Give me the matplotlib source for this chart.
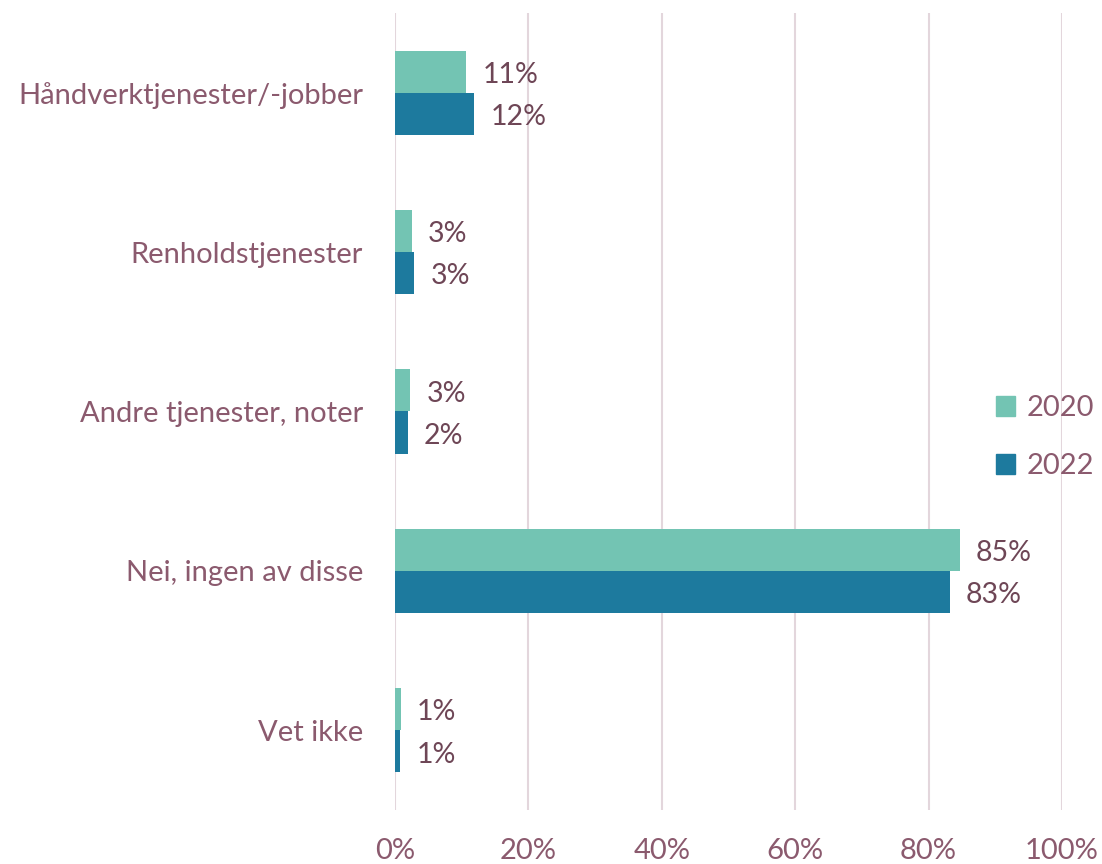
import matplotlib.pyplot as plt
import numpy as np
from matplotlib.patches import Patch

categories = ["Håndverktjenester/-jobber", "Renholdstjenester",
              "Andre tjenester, noter", "Nei, ingen av disse", "Vet ikke"]
values_2020 = [10.7, 2.5, 2.3, 84.7, 0.9]
values_2022 = [11.9, 2.9, 1.9, 83.2, 0.8]
labels_2020 = ["11%", "3%", "3%", "85%", "1%"]
labels_2022 = ["12%", "3%", "2%", "83%", "1%"]

plt.rcParams["font.family"] = ["Lato", "DejaVu Sans"]

C2020 = "#73c4b3"
C2022 = "#1d7a9e"
TICK = "#8b5a6e"
LABEL = "#6e4656"
GRID = "#e3d6dc"

fig = plt.figure(figsize=(11.02, 8.64), dpi=100)
ax = fig.add_axes([0.3584, 0.0625, 0.6053, 0.9225])

y = np.arange(len(categories))
h = 0.264
ax.barh(y - h / 2, values_2020, height=h, color=C2020, zorder=2)
ax.barh(y + h / 2, values_2022, height=h, color=C2022, zorder=2)

# value labels sit a touch below the bar centre, as in the original
for i in range(len(categories)):
    ax.text(values_2020[i] + 2.4, y[i] - h / 2 + 0.02, labels_2020[i],
            va="center", ha="left", fontsize=20.5, color=LABEL)
    ax.text(values_2022[i] + 2.4, y[i] + h / 2 + 0.02, labels_2022[i],
            va="center", ha="left", fontsize=20.5, color=LABEL)

ax.set_xlim(0, 100)
ax.set_ylim(len(categories) - 0.5, -0.5)
ax.set_xticks(range(0, 101, 20))
ax.set_xticklabels([f"{v}%" for v in range(0, 101, 20)])
ax.set_yticks(y)
ax.set_yticklabels(categories)
ax.tick_params(axis="both", length=0, labelsize=21, colors=TICK)
ax.tick_params(axis="y", pad=23)
ax.tick_params(axis="x", pad=20)
ax.xaxis.grid(True, color=GRID, linewidth=1.5, zorder=0)
ax.set_axisbelow(True)
for s in ax.spines.values():
    s.set_visible(False)

handles = [Patch(color=C2020), Patch(color=C2022)]
fig.legend(handles, ["2020", "2022"], loc="center", bbox_to_anchor=(0.948, 0.494),
           frameon=False, fontsize=21, labelcolor=TICK, handlelength=0.65,
           handleheight=0.65, handletextpad=0.4, labelspacing=1.1)

fig.savefig("out.png", dpi=100)
